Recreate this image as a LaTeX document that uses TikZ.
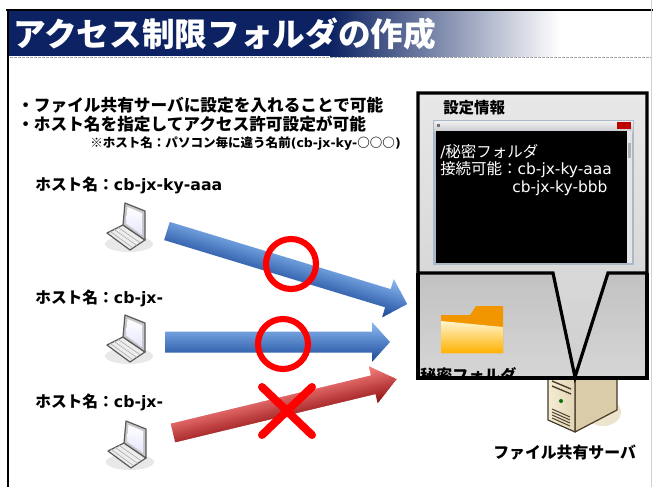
\documentclass[tikz,border=0pt]{standalone}
\usepackage{fontspec}
\usetikzlibrary{calc}
\setmainfont{Noto Sans CJK JP}
\newfontfamily\lat{DejaVu Sans}
\newcommand\setfs[1]{\fontsize{#1}{#1}\selectfont}
% block arrow along local x: length #1, half shaft #2, half head #3, head length #4,
% shaded across its width from colour #5 (upper edge) to colour #6 (lower edge)
\newcommand\stripedarrow[6]{%
  \begin{scope}
    \clip (0,-#2) -- ({#1-#4},-#2) -- ({#1-#4},-#3) -- (#1,0) -- ({#1-#4},#3) -- ({#1-#4},#2) -- (0,#2) -- cycle;
    \foreach \k in {0,...,19}{%
      \pgfmathsetmacro\p{100-\k*5.26}%
      \fill[#5!\p!#6] (-1,{-#3+\k*#3/10-0.3}) rectangle ({#1+1},{-#3+(\k+1)*#3/10+0.3});
    }
  \end{scope}}
\definecolor{navy}{RGB}{12,34,98}
\definecolor{blueA}{RGB}{140,186,242}
\definecolor{blueB}{RGB}{30,76,156}
\definecolor{redA}{RGB}{248,130,130}
\definecolor{redB}{RGB}{150,20,20}
\definecolor{markred}{RGB}{255,0,0}
\definecolor{srvfront}{RGB}{244,236,212}
\definecolor{srvside}{RGB}{218,204,168}
\definecolor{srvline}{RGB}{70,58,40}
\definecolor{srvshadow}{RGB}{236,228,205}
\definecolor{fldback}{RGB}{242,150,0}
\definecolor{fldtop}{RGB}{255,244,205}
\definecolor{fldbot}{RGB}{255,178,0}
\definecolor{winframe}{RGB}{170,184,200}
\begin{document}
\begin{tikzpicture}[x=0.75pt,y=-0.75pt,
  txt/.style={inner sep=0pt, anchor=west},
  frame/.style={line width=2.4pt, draw=black},
  okring/.style={draw=markred, line width=4.6pt},
  laptop/.pic={
    \fill[black!9] (3,17) ellipse (24 and 8);
    \filldraw[fill=black!7, draw=black!65, line width=0.9pt, line join=round]
      (-3,-2) -- (19,13) -- (4,23) -- (-19,6) -- cycle;
    \draw[black!35, line width=0.4pt] (-7.8,0.4) -- (14.5,16) (-11.8,2.4) -- (10.75,18.5) (-15.8,4.4) -- (7,21);
    \filldraw[fill=black!22, draw=black!65, line width=0.9pt, line join=round]
      (-1,-24) -- (19,-16) -- (19,13) -- (-3,-2) -- cycle;
    \shade[top color=white, bottom color=blue!10] (1.5,-20) -- (16,-14) -- (16,8) -- (0,-3.5) -- cycle;
  }]
\useasboundingbox (0,0) rectangle (653,487);
\fill[white] (0,0) rectangle (653,487);

% heading band
\fill[navy] (8,11) rectangle (330,56);
\shade[left color=navy, right color=white] (330,11) rectangle (560,56);
\fill[white] (560,11) rectangle (651,56);
\draw[line width=2.2pt] (6,10) -- (653,10);
\draw[black!35, line width=1.2pt, dash pattern=on 2pt off 1pt] (10,57.5) -- (651,57.5);
\draw[line width=2.2pt] (8,9) -- (8,487);
\draw[black!18, line width=0.8pt] (651.5,0) -- (651.5,487);
\node[txt, text=white, font=\bfseries\setfs{24.5}] (title) at (13,34) {アクセス制限フォルダの作成};

% explanation
\node[txt, font=\bfseries\setfs{12.5}] (b1) at (17,105) {・ファイル共有サーバに設定を入れることで可能};
\node[txt, font=\bfseries\setfs{12.5}] (b2) at (17,124) {・ホスト名を指定してアクセス許可設定が可能};
\node[txt, font=\bfseries\setfs{9.4}] (note) at (90,143) {※ホスト名：パソコン毎に違う名前{\lat (cb-jx-ky-}○○○{\lat )}};

% clients
\node[txt, font=\bfseries\setfs{11.8}] (h1) at (35,185) {ホスト名：{\lat cb-jx-ky-aaa}};
\node[txt, font=\bfseries\setfs{11.8}] (h2) at (35,298) {ホスト名：{\lat cb-jx-}};
\node[txt, font=\bfseries\setfs{11.8}] (h3) at (35,402) {ホスト名：{\lat cb-jx-}};
\pic (lap1) at (126,227) {laptop};
\pic (lap2) at (126,339) {laptop};
\pic (lap3) at (127,445) {laptop};

% access arrows
\coordinate (a1) at (167,231);
\coordinate (a2) at (165,342);
\coordinate (a3) at (173,433);
\begin{scope}[shift={(a1)}, rotate=-16.92]
  \stripedarrow{251}{9.5}{20}{20}{blueA}{blueB}
\end{scope}
\begin{scope}[shift={(a2)}]
  \stripedarrow{225}{10.5}{20}{18}{blueA}{blueB}
\end{scope}
\begin{scope}[shift={(a3)}, rotate=13.55]
  \stripedarrow{230}{9.5}{19}{24}{redA}{redB}
\end{scope}

% allowed / denied marks
\node[okring, circle, minimum size=50*0.75pt, inner sep=0pt] (ok1) at (291,264) {};
\node[okring, circle, minimum size=50*0.75pt, inner sep=0pt] (ok2) at (283,344) {};
\coordinate (ng) at (287,411);
\draw[markred, line width=6pt, line cap=round] ($(ng)+(-25,-24)$) -- ($(ng)+(25,24)$) ($(ng)+(25,-24)$) -- ($(ng)+(-25,24)$);

% file server
\fill[srvshadow] (603,412) ellipse (18 and 14);
\filldraw[fill=srvside, draw=srvline, line width=0.9pt, line join=round]
  (575,376) -- (617,362) -- (617,410) -- (575,432) -- cycle;
\shade[left color=srvfront, right color=srvside!70!srvfront]
  (548,364) -- (575,376) -- (575,432) -- (548,420) -- cycle;
\draw[srvline, line width=0.9pt, line join=round]
  (548,364) -- (575,376) -- (575,432) -- (548,420) -- cycle;
\draw[srvline, line width=1pt] (552,381) -- (571,389) (552,386) -- (571,394);
\fill[green!45!black] (561,401) circle (2);
\foreach \i in {0,1,2,3}
  \draw[srvline, line width=0.7pt] (552,{409+3*\i}) -- (570,{417+3*\i});
\node[txt, font=\bfseries\setfs{11.9}] (srvname) at (493,453) {ファイル共有サーバ};

% folder view
\shade[top color=black!24, bottom color=black!16] (418,273) rectangle (647,378);
\begin{scope}
  \clip (418,273) rectangle (647,378);
  \fill[fldback] (441,315) -- (470,315) -- (476,306) -- (503,306) -- (503,353) -- (441,353) -- cycle;
  \shade[top color=fldtop, bottom color=fldbot] (441,321) -- (503,327) -- (503,353) -- (441,353) -- cycle;
  \node[txt, font=\bfseries\setfs{12}] (fname) at (420,375) {秘密フォルダ};
\end{scope}
\draw[frame] (418,273) -- (418,378) -- (647,378) -- (647,273);

% settings callout
\coordinate (tip) at (575,377);
\shade[top color=black!9, bottom color=black!19]
  (418,93) -- (647,93) -- (647,273) -- (608,273) -- (tip) -- (553,273) -- (418,273) -- cycle;
\draw[frame, line join=miter]
  (418,93) -- (647,93) -- (647,273) -- (608,273) -- (tip) -- (553,273) -- (418,273) -- cycle;
\node[txt, font=\bfseries\setfs{11.6}] (cap) at (443,108) {設定情報};
\fill[winframe] (433,120) rectangle (634,265);
\shade[top color=black!6, bottom color=blue!10!black!20] (434,121) rectangle (633,131);
\fill[black!55] (437,124) rectangle (440,127);
\fill[red!75!black] (617,122) rectangle (631,129);
\fill[black] (436,131) rectangle (627,263);
\fill[black!10] (627,131) rectangle (632,263);
\fill[black!30] (628,143) rectangle (631,158);
\node[txt, text=white, font=\setfs{11.6}] (s1) at (440,152) {{\lat /}秘密フォルダ};
\node[txt, text=white, font=\setfs{11.6}] (s2) at (440,170) {接続可能：{\lat cb-jx-ky-aaa}};
\node[txt, text=white, font=\setfs{11.6}] (s3) at (512,188) {\lat cb-jx-ky-bbb};
\end{tikzpicture}
\end{document}
